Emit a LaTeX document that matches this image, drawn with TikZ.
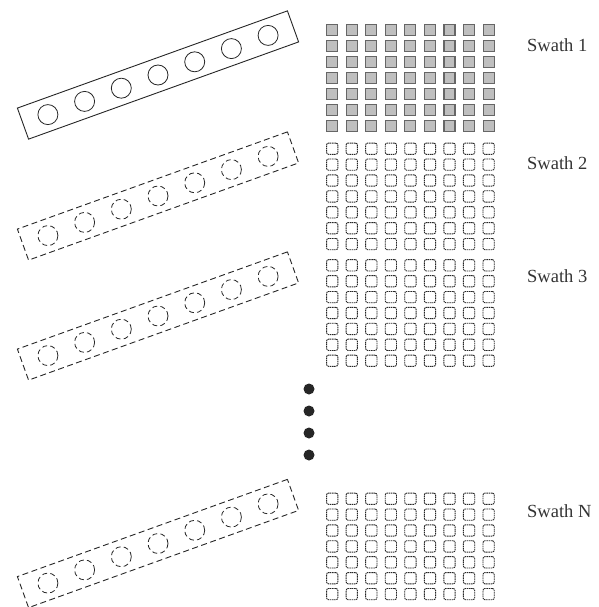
\documentclass[tikz,border=0pt]{standalone}
\usepackage{fontspec}
\setmainfont{Liberation Serif}
\begin{document}
\begin{tikzpicture}[x=1pt,y=-1pt,
  plate/.style={draw=black!85, line width=0.9pt, minimum width=287pt, minimum height=33pt, inner sep=0pt, rotate=19.8},
  dplate/.style={plate, dash pattern=on 6pt off 3.5pt},
  hole/.style={circle, draw=black!85, line width=0.8pt, minimum size=20pt, inner sep=0pt},
  dhole/.style={hole, dash pattern=on 5pt off 3.2pt},
  fsq/.style={draw=black!60, fill=black!25, line width=1.1pt, minimum size=11pt, inner sep=0pt},
  dsq/.style={draw=black!85, line width=0.9pt, dash pattern=on 1.5pt off 0.7pt, rounded corners=2pt, minimum size=11.3pt, inner sep=0pt},
  lbl/.style={anchor=west, font=\fontsize{18.5}{20}\selectfont, text=black!80, inner sep=0pt},
  bigdot/.style={circle, fill=black!85, minimum size=11pt, inner sep=0pt}]
\useasboundingbox (0,0) rectangle (598,607);
% plates
\node[plate] (p1) at (158,75) {};
\node[dplate] (p2) at (158,196) {};
\node[dplate] (p3) at (158,316) {};
\node[dplate] (p4) at (158,543.5) {};
\foreach \k in {1,...,7} {
  \node[hole] (h1-\k) at ({158+(\k-4)*36.7}, {75-(\k-4)*13.2}) {};
  \node[dhole] (h2-\k) at ({158+(\k-4)*36.7}, {196-(\k-4)*13.2}) {};
  \node[dhole] (h3-\k) at ({158+(\k-4)*36.7}, {316-(\k-4)*13.2}) {};
  \node[dhole] (h4-\k) at ({158+(\k-4)*36.7}, {543.5-(\k-4)*13.2}) {};
}
% pixel grids
\foreach \r in {0,...,6} \foreach \c in {0,...,8}
  \node[fsq] (sa-\r-\c) at ({332.2+\c*19.55}, {30.3+\r*15.95}) {};
\foreach \s/\t in {2/142.7, 3/259.3, 4/492.7}
  \foreach \r in {0,...,6} \foreach \c in {0,...,8}
    \node[dsq] (s\s-\r-\c) at ({332.2+\c*19.55}, {\t+6+\r*15.9}) {};
% labels
\node[lbl] (l1) at (527,45) {Swath 1};
\node[lbl] (l2) at (527,162.7) {Swath 2};
\node[lbl] (l3) at (527,275.7) {Swath 3};
\node[lbl] (l4) at (527,511) {Swath N};
% ellipsis dots
\node[bigdot] (d1) at (309,389) {};
\node[bigdot] (d2) at (309,411) {};
\node[bigdot] (d3) at (309,433) {};
\node[bigdot] (d4) at (309,455) {};
\end{tikzpicture}
\end{document}
